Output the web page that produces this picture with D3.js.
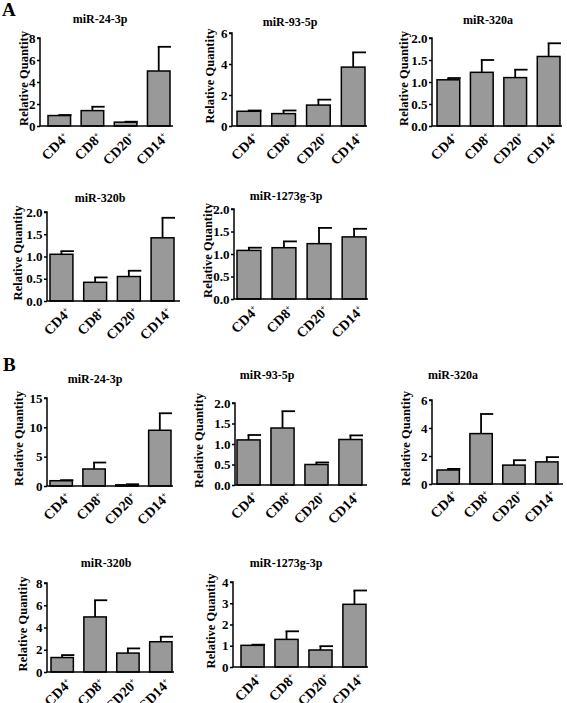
<!DOCTYPE html>
<html><head><meta charset="utf-8">
<script src="https://cdn.jsdelivr.net/npm/d3@7"></script>
<style>
html,body{margin:0;padding:0;background:#fff;}
</style></head>
<body>
<svg id="chart" width="567" height="703" font-family="'Liberation Serif', 'Times New Roman', serif" font-weight="bold"></svg>
<script>
// ---------- DATA ----------
const categories = ["CD4", "CD8", "CD20", "CD14"];
const groupLabels = ["A", "B"];
const mirnas = ["miR-24-3p", "miR-93-5p", "miR-320a", "miR-320b", "miR-1273g-3p"];

// Group A: means and upper error
const meanA_24_3p   = [0.95, 1.40, 0.35, 5.00];
const errA_24_3p    = [0.05, 0.35, 0.04, 2.20];
const meanA_93_5p   = [0.95, 0.80, 1.35, 3.80];
const errA_93_5p    = [0.05, 0.20, 0.35, 0.95];
const meanA_320a    = [1.05, 1.22, 1.10, 1.58];
const errA_320a     = [0.04, 0.28, 0.18, 0.30];
const meanA_320b    = [1.05, 0.42, 0.55, 1.42];
const errA_320b     = [0.07, 0.11, 0.13, 0.45];
const meanA_1273g   = [1.08, 1.14, 1.23, 1.38];
const errA_1273g    = [0.06, 0.14, 0.35, 0.18];

// Group B
const meanB_24_3p   = [0.90, 2.90, 0.20, 9.50];
const errB_24_3p    = [0.10, 1.10, 0.10, 2.90];
const meanB_93_5p   = [1.10, 1.39, 0.50, 1.11];
const errB_93_5p    = [0.12, 0.41, 0.05, 0.10];
const meanB_320a    = [1.00, 3.60, 1.35, 1.58];
const errB_320a     = [0.08, 1.40, 0.35, 0.34];
const meanB_320b    = [1.30, 4.95, 1.70, 2.72];
const errB_320b     = [0.22, 1.50, 0.42, 0.45];
const meanB_1273g   = [1.02, 1.30, 0.80, 2.95];
const errB_1273g    = [0.03, 0.38, 0.18, 0.65];

// y-axis tick values
const ticksA_24_3p = [0, 2, 4, 6, 8];
const ticksA_93_5p = [0, 2, 4, 6];
const ticksA_320a  = [0, 0.5, 1.0, 1.5, 2.0];
const ticksA_320b  = [0, 0.5, 1.0, 1.5, 2.0];
const ticksA_1273g = [0, 0.5, 1.0, 1.5, 2.0];
const ticksB_24_3p = [0, 5, 10, 15];
const ticksB_93_5p = [0, 0.5, 1.0, 1.5, 2.0];
const ticksB_320a  = [0, 2, 4, 6];
const ticksB_320b  = [0, 2, 4, 6, 8];
const ticksB_1273g = [0, 1, 2, 3, 4];

const yLabel = "Relative Quantity";

const panelData = [
  {title: mirnas[0], mean: meanA_24_3p, err: errA_24_3p, ticks: ticksA_24_3p, dec: 0},
  {title: mirnas[1], mean: meanA_93_5p, err: errA_93_5p, ticks: ticksA_93_5p, dec: 0},
  {title: mirnas[2], mean: meanA_320a,  err: errA_320a,  ticks: ticksA_320a,  dec: 1},
  {title: mirnas[3], mean: meanA_320b,  err: errA_320b,  ticks: ticksA_320b,  dec: 1},
  {title: mirnas[4], mean: meanA_1273g, err: errA_1273g, ticks: ticksA_1273g, dec: 1},
  {title: mirnas[0], mean: meanB_24_3p, err: errB_24_3p, ticks: ticksB_24_3p, dec: 0},
  {title: mirnas[1], mean: meanB_93_5p, err: errB_93_5p, ticks: ticksB_93_5p, dec: 1},
  {title: mirnas[2], mean: meanB_320a,  err: errB_320a,  ticks: ticksB_320a,  dec: 0},
  {title: mirnas[3], mean: meanB_320b,  err: errB_320b,  ticks: ticksB_320b,  dec: 0},
  {title: mirnas[4], mean: meanB_1273g, err: errB_1273g, ticks: ticksB_1273g, dec: 0}
];

// ---------- LAYOUT (pixels) ----------
const layout = [
  {ax: 40,  axEnd: 173, b0: 48,  b1: 170, top: 38,  base: 126, tx: 100, ty: 23,  lx: 23.5},
  {ax: 232, axEnd: 367, b0: 237, b1: 365, top: 33,  base: 126, tx: 290, ty: 26,  lx: 210},
  {ax: 432, axEnd: 562, b0: 437, b1: 560, top: 38,  base: 126, tx: 488, ty: 24,  lx: 404},
  {ax: 47,  axEnd: 180, b0: 50,  b1: 174, top: 212, base: 301, tx: 100, ty: 202, lx: 17.5},
  {ax: 234, axEnd: 368, b0: 237, b1: 366, top: 209, base: 299, tx: 286, ty: 200, lx: 207.5},
  {ax: 47,  axEnd: 173, b0: 50,  b1: 171, top: 398, base: 486, tx: 95,  ty: 383, lx: 19},
  {ax: 235, axEnd: 367, b0: 237, b1: 362, top: 403, base: 485, tx: 267, ty: 379, lx: 199},
  {ax: 432, axEnd: 563, b0: 437, b1: 558, top: 400, base: 484, tx: 453, ty: 379, lx: 406},
  {ax: 47,  axEnd: 174, b0: 51,  b1: 172, top: 583, base: 672, tx: 106, ty: 567, lx: 22.5},
  {ax: 233, axEnd: 368, b0: 241, b1: 366, top: 582, base: 667, tx: 286, ty: 567, lx: 211}
];
const groupPos = [{x: 2, y: 16}, {x: 3, y: 371}];
const FONT = "'Liberation Serif', 'Times New Roman', serif";

// ---------- DRAW ----------
const svg = d3.select("#chart");
svg.selectAll("text.group").data(groupLabels).join("text")
  .attr("class", "group")
  .attr("x", (d, i) => groupPos[i].x).attr("y", (d, i) => groupPos[i].y)
  .attr("font-family", FONT).attr("font-weight", "bold")
  .attr("font-size", 19).text(d => d);

panelData.forEach((p, i) => {
  const L = layout[i];
  const g = svg.append("g").attr("font-family", FONT).attr("font-weight", "bold");
  const yMax = p.ticks[p.ticks.length - 1];
  const y = d3.scaleLinear().domain([0, yMax]).range([L.base, L.top]);
  const x = d3.scaleBand().domain(categories).range([L.b0, L.b1]).paddingInner(0.32).paddingOuter(0);
  const bw = x.bandwidth();

  g.append("text").attr("x", L.tx).attr("y", L.ty).attr("text-anchor", "middle")
    .attr("font-size", 12).text(p.title);

  g.append("text")
    .attr("transform", `translate(${L.lx},${(L.top + L.base) / 2 - 3.5}) rotate(-90)`)
    .attr("text-anchor", "middle").attr("dy", "0.35em")
    .attr("font-size", 12.5).text(yLabel);

  g.selectAll("rect").data(categories).join("rect")
    .attr("x", d => x(d)).attr("width", bw)
    .attr("y", (d, j) => y(p.mean[j]))
    .attr("height", (d, j) => y(0) - y(p.mean[j]))
    .attr("fill", "#999999").attr("stroke", "#000").attr("stroke-width", 1.5);

  categories.forEach((c, j) => {
    const cx = x(c) + bw / 2;
    const y1 = y(p.mean[j]);
    const y2 = y(p.mean[j] + p.err[j]);
    g.append("line").attr("x1", cx).attr("x2", cx).attr("y1", y1).attr("y2", y2)
      .attr("stroke", "#000").attr("stroke-width", 1.8);
    g.append("line").attr("x1", cx - 1).attr("x2", cx + bw / 2 + 1).attr("y1", y2).attr("y2", y2)
      .attr("stroke", "#000").attr("stroke-width", 1.8);
  });

  const fmt = p.dec ? d3.format(".1f") : d3.format("d");
  const yAxis = d3.axisLeft(y).tickValues(p.ticks).tickFormat(fmt).tickSize(3).tickPadding(1.5);
  const ya = g.append("g").attr("transform", `translate(${L.ax},0)`).call(yAxis)
    .attr("font-family", FONT).attr("font-weight", "bold").attr("font-size", 13);
  ya.select(".domain").attr("stroke-width", 1.5).attr("d", `M-3,${L.top}H0V${L.base}`);
  ya.selectAll(".tick line").attr("stroke-width", 1.5);

  g.append("line").attr("x1", L.ax).attr("x2", L.axEnd).attr("y1", L.base).attr("y2", L.base)
    .attr("stroke", "#000").attr("stroke-width", 1.5);

  categories.forEach(c => {
    const cx = x(c) + bw / 2;
    const t = g.append("text")
      .attr("transform", `translate(${cx + 3},${L.base + 5}) rotate(-45)`)
      .attr("text-anchor", "end").attr("dy", "0.75em")
      .attr("font-size", 14);
    t.append("tspan").text(c);
    t.append("tspan").attr("dy", "-0.6em").attr("font-size", 8).text("+");
  });
});
</script>
</body></html>
